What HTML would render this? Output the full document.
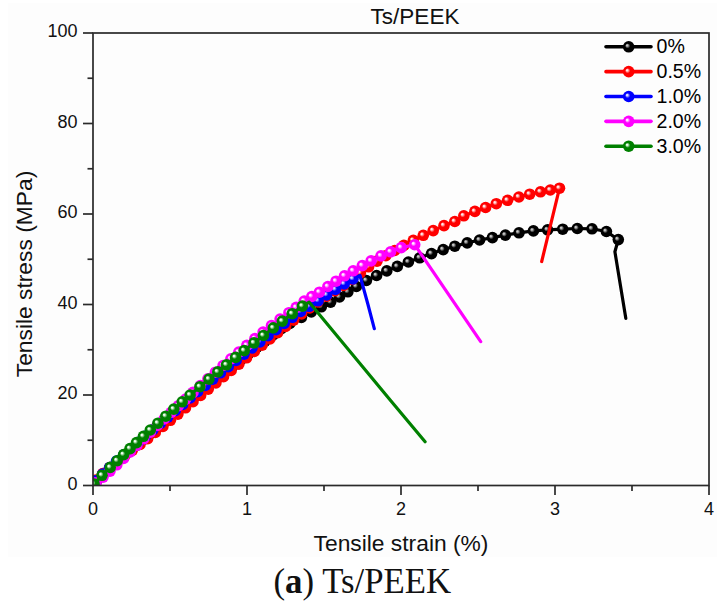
<!DOCTYPE html>
<html><head><meta charset="utf-8"><style>
html,body{margin:0;padding:0;background:#fff;}
body{width:722px;height:605px;overflow:hidden;position:relative;}
svg{position:absolute;left:0;top:0;}
text{font-family:"Liberation Sans",sans-serif;}
text.cap{font-family:"Liberation Serif",serif;}
</style></head><body>
<svg width="722" height="605" viewBox="0 0 722 605">
<defs><radialGradient id="gr_k" cx="0.5" cy="0.5" r="0.5" fx="0.34" fy="0.36">
<stop offset="0" stop-color="#c4c4c4"/><stop offset="0.12" stop-color="#c4c4c4"/><stop offset="0.44" stop-color="#000000"/><stop offset="1" stop-color="#000000"/></radialGradient>
<radialGradient id="gr_r" cx="0.5" cy="0.5" r="0.5" fx="0.34" fy="0.36">
<stop offset="0" stop-color="#ffe8e8"/><stop offset="0.12" stop-color="#ffe8e8"/><stop offset="0.44" stop-color="#ff0000"/><stop offset="1" stop-color="#ff0000"/></radialGradient>
<radialGradient id="gr_b" cx="0.5" cy="0.5" r="0.5" fx="0.34" fy="0.36">
<stop offset="0" stop-color="#e0e0ff"/><stop offset="0.12" stop-color="#e0e0ff"/><stop offset="0.44" stop-color="#0000ff"/><stop offset="1" stop-color="#0000ff"/></radialGradient>
<radialGradient id="gr_m" cx="0.5" cy="0.5" r="0.5" fx="0.34" fy="0.36">
<stop offset="0" stop-color="#fff0ff"/><stop offset="0.12" stop-color="#fff0ff"/><stop offset="0.44" stop-color="#ff00ff"/><stop offset="1" stop-color="#ff00ff"/></radialGradient>
<radialGradient id="gr_g" cx="0.5" cy="0.5" r="0.5" fx="0.34" fy="0.36">
<stop offset="0" stop-color="#f0fff0"/><stop offset="0.12" stop-color="#f0fff0"/><stop offset="0.44" stop-color="#008000"/><stop offset="1" stop-color="#008000"/></radialGradient>

<clipPath id="plot"><rect x="93" y="33" width="616" height="452.5"/></clipPath>
</defs>
<rect x="8" y="3" width="709" height="554" fill="#fdfdfd"/>
<g clip-path="url(#plot)">
<polyline points="96.0,482.2 102.6,476.1 109.2,470.0 116.0,463.9 122.7,457.8 129.6,451.7 136.5,445.5 143.5,439.4 150.5,433.3 157.7,427.2 164.9,421.1 172.2,415.0 179.5,408.9 187.0,402.8 194.5,396.7 202.0,390.5 209.6,384.4 217.3,378.2 225.1,372.1 233.0,365.9 240.9,359.7 248.8,353.5 256.8,347.3 264.9,341.1 273.1,334.9 281.3,328.6 289.8,323.5 301.4,317.5 311.3,312.0 321.3,306.8 330.6,302.2 339.5,297.0 347.9,291.8 356.4,286.5 366.4,280.5 376.6,275.5 386.8,270.9 397.3,266.4 408.4,262.0 419.7,257.8 431.5,253.6 443.2,249.6 454.8,246.2 467.2,242.9 479.6,240.0 492.4,237.6 505.4,235.1 519.0,232.8 533.4,230.9 547.6,229.8 562.7,229.2 577.3,228.5 592.0,228.8 606.4,231.5 618.3,239.6 614.9,251.7 625.8,318.3" fill="none" stroke="#000000" stroke-width="3.2" stroke-linejoin="round" stroke-linecap="round"/><circle cx="96.0" cy="482.2" r="5.8" fill="url(#gr_k)"/><circle cx="102.6" cy="476.1" r="5.8" fill="url(#gr_k)"/><circle cx="109.2" cy="470.0" r="5.8" fill="url(#gr_k)"/><circle cx="116.0" cy="463.9" r="5.8" fill="url(#gr_k)"/><circle cx="122.7" cy="457.8" r="5.8" fill="url(#gr_k)"/><circle cx="129.6" cy="451.7" r="5.8" fill="url(#gr_k)"/><circle cx="136.5" cy="445.5" r="5.8" fill="url(#gr_k)"/><circle cx="143.5" cy="439.4" r="5.8" fill="url(#gr_k)"/><circle cx="150.5" cy="433.3" r="5.8" fill="url(#gr_k)"/><circle cx="157.7" cy="427.2" r="5.8" fill="url(#gr_k)"/><circle cx="164.9" cy="421.1" r="5.8" fill="url(#gr_k)"/><circle cx="172.2" cy="415.0" r="5.8" fill="url(#gr_k)"/><circle cx="179.5" cy="408.9" r="5.8" fill="url(#gr_k)"/><circle cx="187.0" cy="402.8" r="5.8" fill="url(#gr_k)"/><circle cx="194.5" cy="396.7" r="5.8" fill="url(#gr_k)"/><circle cx="202.0" cy="390.5" r="5.8" fill="url(#gr_k)"/><circle cx="209.6" cy="384.4" r="5.8" fill="url(#gr_k)"/><circle cx="217.3" cy="378.2" r="5.8" fill="url(#gr_k)"/><circle cx="225.1" cy="372.1" r="5.8" fill="url(#gr_k)"/><circle cx="233.0" cy="365.9" r="5.8" fill="url(#gr_k)"/><circle cx="240.9" cy="359.7" r="5.8" fill="url(#gr_k)"/><circle cx="248.8" cy="353.5" r="5.8" fill="url(#gr_k)"/><circle cx="256.8" cy="347.3" r="5.8" fill="url(#gr_k)"/><circle cx="264.9" cy="341.1" r="5.8" fill="url(#gr_k)"/><circle cx="273.1" cy="334.9" r="5.8" fill="url(#gr_k)"/><circle cx="281.3" cy="328.6" r="5.8" fill="url(#gr_k)"/><circle cx="289.8" cy="323.5" r="5.8" fill="url(#gr_k)"/><circle cx="301.4" cy="317.5" r="5.8" fill="url(#gr_k)"/><circle cx="311.3" cy="312.0" r="5.8" fill="url(#gr_k)"/><circle cx="321.3" cy="306.8" r="5.8" fill="url(#gr_k)"/><circle cx="330.6" cy="302.2" r="5.8" fill="url(#gr_k)"/><circle cx="339.5" cy="297.0" r="5.8" fill="url(#gr_k)"/><circle cx="347.9" cy="291.8" r="5.8" fill="url(#gr_k)"/><circle cx="356.4" cy="286.5" r="5.8" fill="url(#gr_k)"/><circle cx="366.4" cy="280.5" r="5.8" fill="url(#gr_k)"/><circle cx="376.6" cy="275.5" r="5.8" fill="url(#gr_k)"/><circle cx="386.8" cy="270.9" r="5.8" fill="url(#gr_k)"/><circle cx="397.3" cy="266.4" r="5.8" fill="url(#gr_k)"/><circle cx="408.4" cy="262.0" r="5.8" fill="url(#gr_k)"/><circle cx="419.7" cy="257.8" r="5.8" fill="url(#gr_k)"/><circle cx="431.5" cy="253.6" r="5.8" fill="url(#gr_k)"/><circle cx="443.2" cy="249.6" r="5.8" fill="url(#gr_k)"/><circle cx="454.8" cy="246.2" r="5.8" fill="url(#gr_k)"/><circle cx="467.2" cy="242.9" r="5.8" fill="url(#gr_k)"/><circle cx="479.6" cy="240.0" r="5.8" fill="url(#gr_k)"/><circle cx="492.4" cy="237.6" r="5.8" fill="url(#gr_k)"/><circle cx="505.4" cy="235.1" r="5.8" fill="url(#gr_k)"/><circle cx="519.0" cy="232.8" r="5.8" fill="url(#gr_k)"/><circle cx="533.4" cy="230.9" r="5.8" fill="url(#gr_k)"/><circle cx="547.6" cy="229.8" r="5.8" fill="url(#gr_k)"/><circle cx="562.7" cy="229.2" r="5.8" fill="url(#gr_k)"/><circle cx="577.3" cy="228.5" r="5.8" fill="url(#gr_k)"/><circle cx="592.0" cy="228.8" r="5.8" fill="url(#gr_k)"/><circle cx="606.4" cy="231.5" r="5.8" fill="url(#gr_k)"/><circle cx="618.3" cy="239.6" r="5.8" fill="url(#gr_k)"/><polyline points="96.0,480.1 102.7,473.6 109.6,467.6 117.1,461.9 124.7,456.1 132.3,450.3 140.0,444.5 147.7,438.6 155.3,432.5 162.9,426.4 170.4,420.3 177.9,414.1 185.5,407.8 193.0,401.7 200.6,395.4 208.2,389.2 215.9,383.0 223.5,376.7 231.2,370.4 238.9,364.1 246.6,357.8 254.3,351.5 262.1,345.2 269.9,338.9 277.7,332.6 285.6,326.4 293.6,320.2 301.6,314.0 309.7,307.9 317.8,302.0 326.2,296.3 334.7,290.8 343.5,285.4 352.2,279.4 360.4,273.0 368.6,266.8 377.0,261.1 385.8,255.7 394.7,250.5 403.9,245.4 413.3,240.4 423.3,235.3 433.2,230.6 444.0,225.6 454.8,221.5 463.8,215.8 474.9,211.4 485.6,207.5 496.3,203.7 507.6,200.3 518.9,197.0 529.7,194.2 540.5,191.8 550.3,190.0 559.5,188.2 541.7,261.5" fill="none" stroke="#ff0000" stroke-width="3.2" stroke-linejoin="round" stroke-linecap="round"/><circle cx="96.0" cy="480.1" r="5.8" fill="url(#gr_r)"/><circle cx="102.7" cy="473.6" r="5.8" fill="url(#gr_r)"/><circle cx="109.6" cy="467.6" r="5.8" fill="url(#gr_r)"/><circle cx="117.1" cy="461.9" r="5.8" fill="url(#gr_r)"/><circle cx="124.7" cy="456.1" r="5.8" fill="url(#gr_r)"/><circle cx="132.3" cy="450.3" r="5.8" fill="url(#gr_r)"/><circle cx="140.0" cy="444.5" r="5.8" fill="url(#gr_r)"/><circle cx="147.7" cy="438.6" r="5.8" fill="url(#gr_r)"/><circle cx="155.3" cy="432.5" r="5.8" fill="url(#gr_r)"/><circle cx="162.9" cy="426.4" r="5.8" fill="url(#gr_r)"/><circle cx="170.4" cy="420.3" r="5.8" fill="url(#gr_r)"/><circle cx="177.9" cy="414.1" r="5.8" fill="url(#gr_r)"/><circle cx="185.5" cy="407.8" r="5.8" fill="url(#gr_r)"/><circle cx="193.0" cy="401.7" r="5.8" fill="url(#gr_r)"/><circle cx="200.6" cy="395.4" r="5.8" fill="url(#gr_r)"/><circle cx="208.2" cy="389.2" r="5.8" fill="url(#gr_r)"/><circle cx="215.9" cy="383.0" r="5.8" fill="url(#gr_r)"/><circle cx="223.5" cy="376.7" r="5.8" fill="url(#gr_r)"/><circle cx="231.2" cy="370.4" r="5.8" fill="url(#gr_r)"/><circle cx="238.9" cy="364.1" r="5.8" fill="url(#gr_r)"/><circle cx="246.6" cy="357.8" r="5.8" fill="url(#gr_r)"/><circle cx="254.3" cy="351.5" r="5.8" fill="url(#gr_r)"/><circle cx="262.1" cy="345.2" r="5.8" fill="url(#gr_r)"/><circle cx="269.9" cy="338.9" r="5.8" fill="url(#gr_r)"/><circle cx="277.7" cy="332.6" r="5.8" fill="url(#gr_r)"/><circle cx="285.6" cy="326.4" r="5.8" fill="url(#gr_r)"/><circle cx="293.6" cy="320.2" r="5.8" fill="url(#gr_r)"/><circle cx="301.6" cy="314.0" r="5.8" fill="url(#gr_r)"/><circle cx="309.7" cy="307.9" r="5.8" fill="url(#gr_r)"/><circle cx="317.8" cy="302.0" r="5.8" fill="url(#gr_r)"/><circle cx="326.2" cy="296.3" r="5.8" fill="url(#gr_r)"/><circle cx="334.7" cy="290.8" r="5.8" fill="url(#gr_r)"/><circle cx="343.5" cy="285.4" r="5.8" fill="url(#gr_r)"/><circle cx="352.2" cy="279.4" r="5.8" fill="url(#gr_r)"/><circle cx="360.4" cy="273.0" r="5.8" fill="url(#gr_r)"/><circle cx="368.6" cy="266.8" r="5.8" fill="url(#gr_r)"/><circle cx="377.0" cy="261.1" r="5.8" fill="url(#gr_r)"/><circle cx="385.8" cy="255.7" r="5.8" fill="url(#gr_r)"/><circle cx="394.7" cy="250.5" r="5.8" fill="url(#gr_r)"/><circle cx="403.9" cy="245.4" r="5.8" fill="url(#gr_r)"/><circle cx="413.3" cy="240.4" r="5.8" fill="url(#gr_r)"/><circle cx="423.3" cy="235.3" r="5.8" fill="url(#gr_r)"/><circle cx="433.2" cy="230.6" r="5.8" fill="url(#gr_r)"/><circle cx="444.0" cy="225.6" r="5.8" fill="url(#gr_r)"/><circle cx="454.8" cy="221.5" r="5.8" fill="url(#gr_r)"/><circle cx="463.8" cy="215.8" r="5.8" fill="url(#gr_r)"/><circle cx="474.9" cy="211.4" r="5.8" fill="url(#gr_r)"/><circle cx="485.6" cy="207.5" r="5.8" fill="url(#gr_r)"/><circle cx="496.3" cy="203.7" r="5.8" fill="url(#gr_r)"/><circle cx="507.6" cy="200.3" r="5.8" fill="url(#gr_r)"/><circle cx="518.9" cy="197.0" r="5.8" fill="url(#gr_r)"/><circle cx="529.7" cy="194.2" r="5.8" fill="url(#gr_r)"/><circle cx="540.5" cy="191.8" r="5.8" fill="url(#gr_r)"/><circle cx="550.3" cy="190.0" r="5.8" fill="url(#gr_r)"/><circle cx="559.5" cy="188.2" r="5.8" fill="url(#gr_r)"/><polyline points="96.0,480.7 102.7,474.0 109.6,467.5 116.5,461.1 123.7,454.9 131.0,448.7 138.3,442.4 145.6,436.1 152.9,429.8 160.3,423.4 167.7,417.1 175.2,410.7 182.6,404.4 190.1,398.0 197.6,391.7 205.2,385.4 212.8,379.1 220.5,372.8 228.3,366.6 236.1,360.4 244.0,354.2 252.0,348.0 259.9,341.9 268.0,335.7 276.1,329.6 284.2,323.5 292.3,317.3 300.6,311.5 309.2,306.3 318.1,300.8 326.7,295.0 335.4,289.5 344.2,283.9 353.0,278.9 360.0,275.5 367.7,303.5 374.3,328.7" fill="none" stroke="#0000ff" stroke-width="3.2" stroke-linejoin="round" stroke-linecap="round"/><circle cx="96.0" cy="480.7" r="5.8" fill="url(#gr_b)"/><circle cx="102.7" cy="474.0" r="5.8" fill="url(#gr_b)"/><circle cx="109.6" cy="467.5" r="5.8" fill="url(#gr_b)"/><circle cx="116.5" cy="461.1" r="5.8" fill="url(#gr_b)"/><circle cx="123.7" cy="454.9" r="5.8" fill="url(#gr_b)"/><circle cx="131.0" cy="448.7" r="5.8" fill="url(#gr_b)"/><circle cx="138.3" cy="442.4" r="5.8" fill="url(#gr_b)"/><circle cx="145.6" cy="436.1" r="5.8" fill="url(#gr_b)"/><circle cx="152.9" cy="429.8" r="5.8" fill="url(#gr_b)"/><circle cx="160.3" cy="423.4" r="5.8" fill="url(#gr_b)"/><circle cx="167.7" cy="417.1" r="5.8" fill="url(#gr_b)"/><circle cx="175.2" cy="410.7" r="5.8" fill="url(#gr_b)"/><circle cx="182.6" cy="404.4" r="5.8" fill="url(#gr_b)"/><circle cx="190.1" cy="398.0" r="5.8" fill="url(#gr_b)"/><circle cx="197.6" cy="391.7" r="5.8" fill="url(#gr_b)"/><circle cx="205.2" cy="385.4" r="5.8" fill="url(#gr_b)"/><circle cx="212.8" cy="379.1" r="5.8" fill="url(#gr_b)"/><circle cx="220.5" cy="372.8" r="5.8" fill="url(#gr_b)"/><circle cx="228.3" cy="366.6" r="5.8" fill="url(#gr_b)"/><circle cx="236.1" cy="360.4" r="5.8" fill="url(#gr_b)"/><circle cx="244.0" cy="354.2" r="5.8" fill="url(#gr_b)"/><circle cx="252.0" cy="348.0" r="5.8" fill="url(#gr_b)"/><circle cx="259.9" cy="341.9" r="5.8" fill="url(#gr_b)"/><circle cx="268.0" cy="335.7" r="5.8" fill="url(#gr_b)"/><circle cx="276.1" cy="329.6" r="5.8" fill="url(#gr_b)"/><circle cx="284.2" cy="323.5" r="5.8" fill="url(#gr_b)"/><circle cx="292.3" cy="317.3" r="5.8" fill="url(#gr_b)"/><circle cx="300.6" cy="311.5" r="5.8" fill="url(#gr_b)"/><circle cx="309.2" cy="306.3" r="5.8" fill="url(#gr_b)"/><circle cx="318.1" cy="300.8" r="5.8" fill="url(#gr_b)"/><circle cx="326.7" cy="295.0" r="5.8" fill="url(#gr_b)"/><circle cx="335.4" cy="289.5" r="5.8" fill="url(#gr_b)"/><circle cx="344.2" cy="283.9" r="5.8" fill="url(#gr_b)"/><circle cx="353.0" cy="278.9" r="5.8" fill="url(#gr_b)"/><polyline points="96.0,482.9 103.0,477.1 110.0,471.1 116.8,464.8 123.5,458.4 130.2,452.0 136.9,445.4 143.7,438.8 150.4,432.1 157.2,425.5 164.2,418.9 171.2,412.3 178.4,405.7 185.7,399.1 193.0,392.4 200.4,385.6 207.9,378.9 215.4,372.2 223.1,365.5 230.9,358.8 238.8,352.1 246.8,345.4 254.9,338.6 263.1,332.0 271.5,325.5 280.1,319.1 288.9,312.7 296.2,307.4 304.2,301.1 311.8,296.5 319.4,292.2 327.9,286.5 336.0,281.2 344.5,275.8 353.2,270.8 362.3,265.6 371.1,260.9 381.0,255.9 390.6,251.8 401.2,247.6 414.7,244.7 480.7,341.6" fill="none" stroke="#ff00ff" stroke-width="3.2" stroke-linejoin="round" stroke-linecap="round"/><circle cx="96.0" cy="482.9" r="5.8" fill="url(#gr_m)"/><circle cx="103.0" cy="477.1" r="5.8" fill="url(#gr_m)"/><circle cx="110.0" cy="471.1" r="5.8" fill="url(#gr_m)"/><circle cx="116.8" cy="464.8" r="5.8" fill="url(#gr_m)"/><circle cx="123.5" cy="458.4" r="5.8" fill="url(#gr_m)"/><circle cx="130.2" cy="452.0" r="5.8" fill="url(#gr_m)"/><circle cx="136.9" cy="445.4" r="5.8" fill="url(#gr_m)"/><circle cx="143.7" cy="438.8" r="5.8" fill="url(#gr_m)"/><circle cx="150.4" cy="432.1" r="5.8" fill="url(#gr_m)"/><circle cx="157.2" cy="425.5" r="5.8" fill="url(#gr_m)"/><circle cx="164.2" cy="418.9" r="5.8" fill="url(#gr_m)"/><circle cx="171.2" cy="412.3" r="5.8" fill="url(#gr_m)"/><circle cx="178.4" cy="405.7" r="5.8" fill="url(#gr_m)"/><circle cx="185.7" cy="399.1" r="5.8" fill="url(#gr_m)"/><circle cx="193.0" cy="392.4" r="5.8" fill="url(#gr_m)"/><circle cx="200.4" cy="385.6" r="5.8" fill="url(#gr_m)"/><circle cx="207.9" cy="378.9" r="5.8" fill="url(#gr_m)"/><circle cx="215.4" cy="372.2" r="5.8" fill="url(#gr_m)"/><circle cx="223.1" cy="365.5" r="5.8" fill="url(#gr_m)"/><circle cx="230.9" cy="358.8" r="5.8" fill="url(#gr_m)"/><circle cx="238.8" cy="352.1" r="5.8" fill="url(#gr_m)"/><circle cx="246.8" cy="345.4" r="5.8" fill="url(#gr_m)"/><circle cx="254.9" cy="338.6" r="5.8" fill="url(#gr_m)"/><circle cx="263.1" cy="332.0" r="5.8" fill="url(#gr_m)"/><circle cx="271.5" cy="325.5" r="5.8" fill="url(#gr_m)"/><circle cx="280.1" cy="319.1" r="5.8" fill="url(#gr_m)"/><circle cx="288.9" cy="312.7" r="5.8" fill="url(#gr_m)"/><circle cx="296.2" cy="307.4" r="5.8" fill="url(#gr_m)"/><circle cx="304.2" cy="301.1" r="5.8" fill="url(#gr_m)"/><circle cx="311.8" cy="296.5" r="5.8" fill="url(#gr_m)"/><circle cx="319.4" cy="292.2" r="5.8" fill="url(#gr_m)"/><circle cx="327.9" cy="286.5" r="5.8" fill="url(#gr_m)"/><circle cx="336.0" cy="281.2" r="5.8" fill="url(#gr_m)"/><circle cx="344.5" cy="275.8" r="5.8" fill="url(#gr_m)"/><circle cx="353.2" cy="270.8" r="5.8" fill="url(#gr_m)"/><circle cx="362.3" cy="265.6" r="5.8" fill="url(#gr_m)"/><circle cx="371.1" cy="260.9" r="5.8" fill="url(#gr_m)"/><circle cx="381.0" cy="255.9" r="5.8" fill="url(#gr_m)"/><circle cx="390.6" cy="251.8" r="5.8" fill="url(#gr_m)"/><circle cx="401.2" cy="247.6" r="5.8" fill="url(#gr_m)"/><circle cx="414.7" cy="244.7" r="5.8" fill="url(#gr_m)"/><polyline points="94.0,484.0 102.0,475.3 110.2,467.4 117.2,460.7 123.6,454.6 130.0,448.6 136.5,442.6 143.4,436.3 150.3,430.0 157.9,423.2 165.8,416.2 173.8,409.1 182.2,401.8 190.1,395.0 199.9,386.7 209.0,379.1 217.8,371.9 226.5,364.8 235.6,357.4 244.2,350.6 254.0,342.9 263.4,335.5 273.3,327.9 282.3,321.1 292.2,313.7 302.4,306.1 309.2,302.2 391.0,401.0 425.1,441.7" fill="none" stroke="#008000" stroke-width="3.2" stroke-linejoin="round" stroke-linecap="round"/><circle cx="94.0" cy="484.0" r="5.8" fill="url(#gr_g)"/><circle cx="102.0" cy="475.3" r="5.8" fill="url(#gr_g)"/><circle cx="110.2" cy="467.4" r="5.8" fill="url(#gr_g)"/><circle cx="117.2" cy="460.7" r="5.8" fill="url(#gr_g)"/><circle cx="123.6" cy="454.6" r="5.8" fill="url(#gr_g)"/><circle cx="130.0" cy="448.6" r="5.8" fill="url(#gr_g)"/><circle cx="136.5" cy="442.6" r="5.8" fill="url(#gr_g)"/><circle cx="143.4" cy="436.3" r="5.8" fill="url(#gr_g)"/><circle cx="150.3" cy="430.0" r="5.8" fill="url(#gr_g)"/><circle cx="157.9" cy="423.2" r="5.8" fill="url(#gr_g)"/><circle cx="165.8" cy="416.2" r="5.8" fill="url(#gr_g)"/><circle cx="173.8" cy="409.1" r="5.8" fill="url(#gr_g)"/><circle cx="182.2" cy="401.8" r="5.8" fill="url(#gr_g)"/><circle cx="190.1" cy="395.0" r="5.8" fill="url(#gr_g)"/><circle cx="199.9" cy="386.7" r="5.8" fill="url(#gr_g)"/><circle cx="209.0" cy="379.1" r="5.8" fill="url(#gr_g)"/><circle cx="217.8" cy="371.9" r="5.8" fill="url(#gr_g)"/><circle cx="226.5" cy="364.8" r="5.8" fill="url(#gr_g)"/><circle cx="235.6" cy="357.4" r="5.8" fill="url(#gr_g)"/><circle cx="244.2" cy="350.6" r="5.8" fill="url(#gr_g)"/><circle cx="254.0" cy="342.9" r="5.8" fill="url(#gr_g)"/><circle cx="263.4" cy="335.5" r="5.8" fill="url(#gr_g)"/><circle cx="273.3" cy="327.9" r="5.8" fill="url(#gr_g)"/><circle cx="282.3" cy="321.1" r="5.8" fill="url(#gr_g)"/><circle cx="292.2" cy="313.7" r="5.8" fill="url(#gr_g)"/><circle cx="302.4" cy="306.1" r="5.8" fill="url(#gr_g)"/>
</g>
<g stroke="#2a2a2a" stroke-width="1.7" fill="none">
<rect x="93" y="33" width="616" height="452.5"/>
<line x1="93" y1="485.5" x2="93" y2="495.0"/><line x1="170" y1="485.5" x2="170" y2="491.0"/><line x1="247" y1="485.5" x2="247" y2="495.0"/><line x1="324" y1="485.5" x2="324" y2="491.0"/><line x1="401" y1="485.5" x2="401" y2="495.0"/><line x1="478" y1="485.5" x2="478" y2="491.0"/><line x1="555" y1="485.5" x2="555" y2="495.0"/><line x1="632" y1="485.5" x2="632" y2="491.0"/><line x1="709" y1="485.5" x2="709" y2="495.0"/><line x1="93" y1="485.50" x2="83.0" y2="485.50"/><line x1="93" y1="440.25" x2="87.5" y2="440.25"/><line x1="93" y1="395.00" x2="83.0" y2="395.00"/><line x1="93" y1="349.75" x2="87.5" y2="349.75"/><line x1="93" y1="304.50" x2="83.0" y2="304.50"/><line x1="93" y1="259.25" x2="87.5" y2="259.25"/><line x1="93" y1="214.00" x2="83.0" y2="214.00"/><line x1="93" y1="168.75" x2="87.5" y2="168.75"/><line x1="93" y1="123.50" x2="83.0" y2="123.50"/><line x1="93" y1="78.25" x2="87.5" y2="78.25"/><line x1="93" y1="33.00" x2="83.0" y2="33.00"/>
</g>
<g font-size="18" fill="#111"><text x="77.5" y="489.8" text-anchor="end">0</text><text x="77.5" y="399.3" text-anchor="end">20</text><text x="77.5" y="308.8" text-anchor="end">40</text><text x="77.5" y="218.3" text-anchor="end">60</text><text x="77.5" y="127.8" text-anchor="end">80</text><text x="77.5" y="37.3" text-anchor="end">100</text><text x="93" y="515.2" text-anchor="middle">0</text><text x="247" y="515.2" text-anchor="middle">1</text><text x="401" y="515.2" text-anchor="middle">2</text><text x="555" y="515.2" text-anchor="middle">3</text><text x="709" y="515.2" text-anchor="middle">4</text></g>
<g><line x1="606" y1="46.8" x2="651" y2="46.8" stroke="#000000" stroke-width="3.6" stroke-linecap="round"/><circle cx="628.7" cy="46.8" r="5.8" fill="url(#gr_k)"/><text x="656.5" y="53.4" font-size="19.6">0%</text><line x1="606" y1="71.65" x2="651" y2="71.65" stroke="#ff0000" stroke-width="3.6" stroke-linecap="round"/><circle cx="628.7" cy="71.65" r="5.8" fill="url(#gr_r)"/><text x="656.5" y="78.2" font-size="19.6">0.5%</text><line x1="606" y1="96.5" x2="651" y2="96.5" stroke="#0000ff" stroke-width="3.6" stroke-linecap="round"/><circle cx="628.7" cy="96.5" r="5.8" fill="url(#gr_b)"/><text x="656.5" y="103.1" font-size="19.6">1.0%</text><line x1="606" y1="121.35" x2="651" y2="121.35" stroke="#ff00ff" stroke-width="3.6" stroke-linecap="round"/><circle cx="628.7" cy="121.35" r="5.8" fill="url(#gr_m)"/><text x="656.5" y="127.9" font-size="19.6">2.0%</text><line x1="606" y1="146.2" x2="651" y2="146.2" stroke="#008000" stroke-width="3.6" stroke-linecap="round"/><circle cx="628.7" cy="146.2" r="5.8" fill="url(#gr_g)"/><text x="656.5" y="152.8" font-size="19.6">3.0%</text></g>
<text x="415" y="24" font-size="22.5" text-anchor="middle" fill="#111">Ts/PEEK</text>
<text x="401" y="551.3" font-size="22.8" text-anchor="middle" fill="#111">Tensile strain (%)</text>
<text transform="translate(31.5,274) rotate(-90)" font-size="22.8" text-anchor="middle" fill="#111">Tensile stress (MPa)</text>
<text class="cap" x="273.5" y="593.2" font-size="34.8" fill="#111">(<tspan font-weight="bold">a</tspan>) Ts/PEEK</text>
</svg>
</body></html>
